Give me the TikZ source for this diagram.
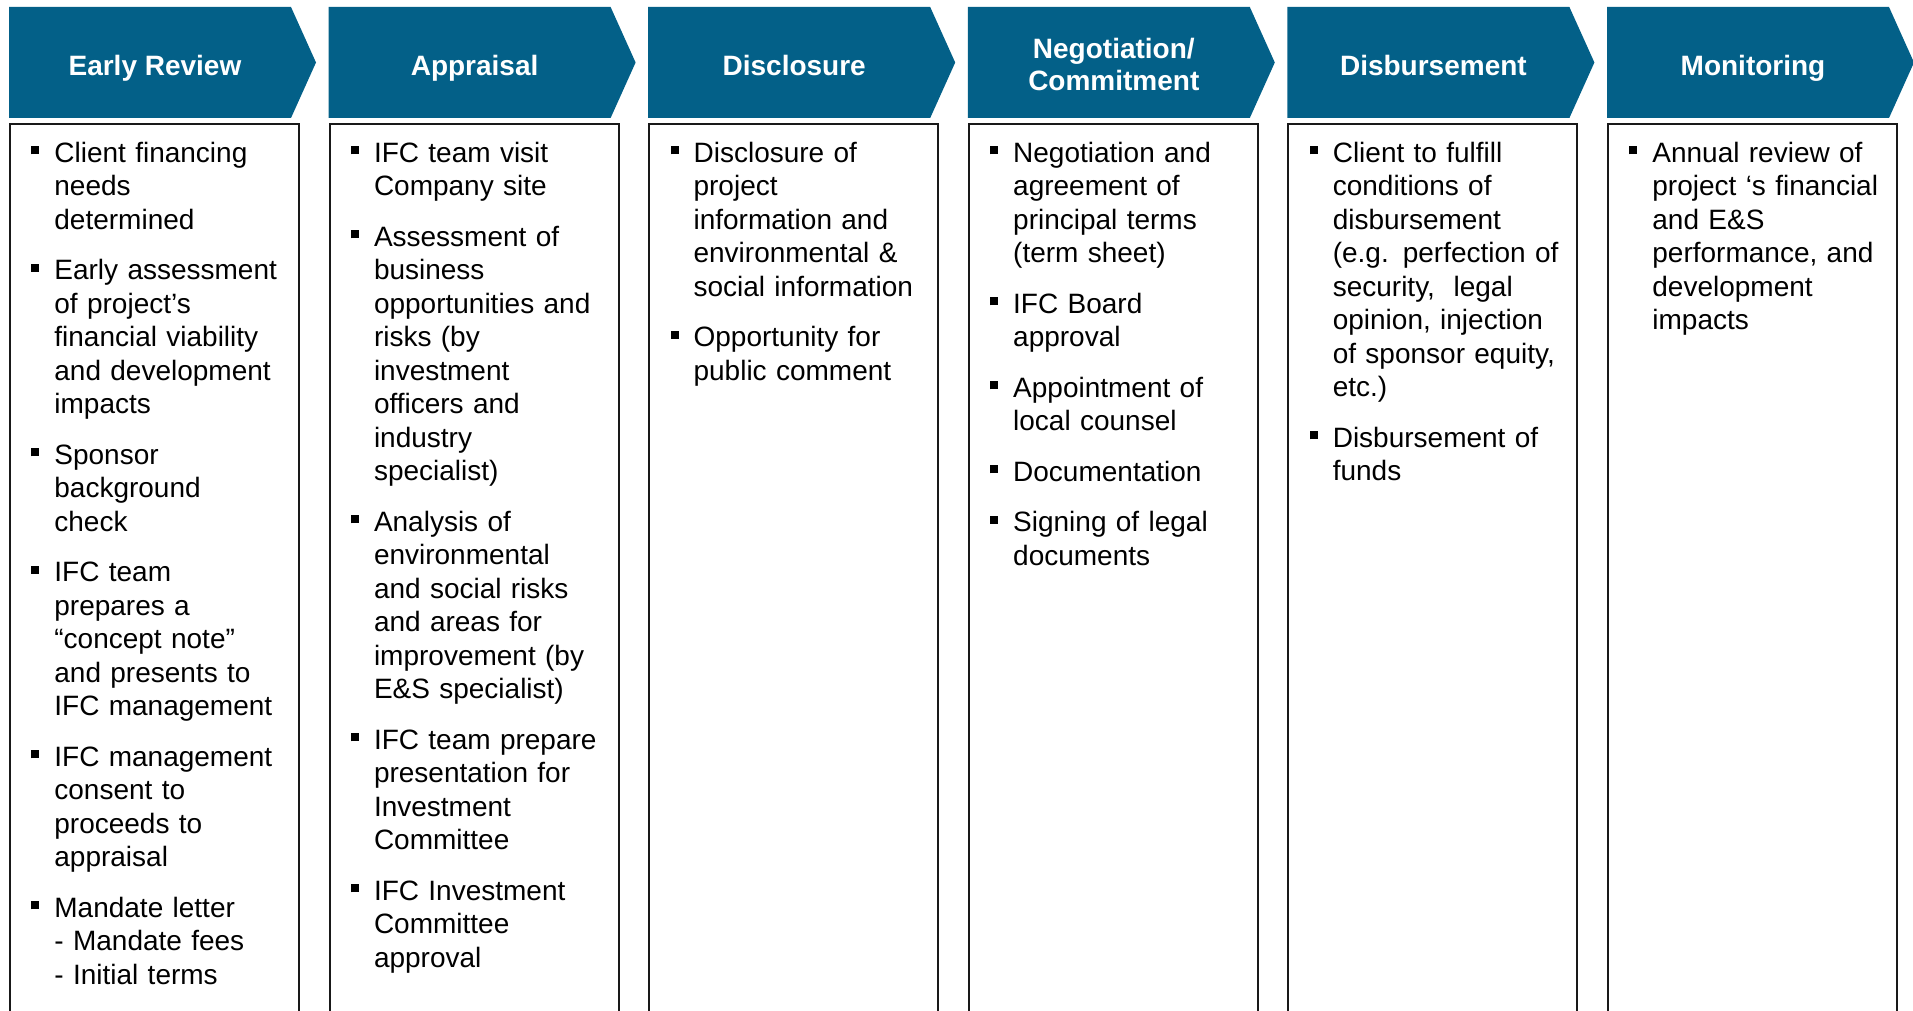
\documentclass[tikz,border=0pt]{standalone}
\usepackage{fontspec}
\setmainfont{Liberation Sans}
\usepackage{tikz}
\usetikzlibrary{shapes.symbols, positioning}
\definecolor{stageblue}{RGB}{3,96,136}
\definecolor{boxline}{RGB}{25,25,25}

% bullet list used in every column
\newenvironment{stagelist}{%
  \begin{list}{\rule[4pt]{4pt}{4pt}}{%
    \setlength{\leftmargin}{11.5pt}%
    \setlength{\labelwidth}{4pt}%
    \setlength{\labelsep}{7.5pt}%
    \setlength{\itemsep}{8.5pt}%
    \setlength{\parsep}{0pt}%
    \setlength{\topsep}{0pt}%
    \setlength{\partopsep}{0pt}}}
  {\end{list}}

\tikzset{
  stage/.style={signal, signal to=east, signal pointer angle=131.5,
    fill=stageblue, draw=none, minimum width=153.5pt, minimum height=55.5pt,
    inner sep=0pt, outer sep=0pt},
  stagename/.style={text=white, align=center, inner sep=0pt,
    text height=10pt, text depth=0pt,
    font=\fontsize{14pt}{16.5pt}\selectfont\bfseries},
  items/.style={anchor=base west, inner sep=0pt, text width=134pt,
    align=left, font=\fontsize{14pt}{16.75pt}\selectfont},
  colbox/.style={line width=1pt, color=boxline}
}

\begin{document}
\begin{tikzpicture}[x=0.5pt, y=-0.5pt]
  \useasboundingbox (0,0) rectangle (1913,1011);

  % Stage headers (\dy: vertical nudge of the name)
  \foreach \i/\lab/\dy in {1/Early Review/-1.5, 2/Appraisal/-1.5, 3/Disclosure/-1.5,
      4/{Negotiation/\\Commitment}/-9.25, 5/Disbursement/-1.5, 6/Monitoring/-1.5} {
    \node[stage, anchor=west] (stage\i) at ({9+319.6*(\i-1)}, 62.5) {};
    \node[stagename] (name\i) at ([xshift=2.5pt, yshift=\dy pt]stage\i.center) {\lab};
  }

  % Open column boxes under the headers
  \foreach \i in {1,...,6} {
    \draw[colbox] ({10+319.6*(\i-1)}, 1013) |- ({299+319.6*(\i-1)}, 124)
      -- ({299+319.6*(\i-1)}, 1013);
  }

  % Column contents
  \node[items] (list1) at (31, 129) {\begin{stagelist}
    \item Client financing\\needs\\determined
    \item Early assessment\\of project’s\\financial viability\\and development\\impacts
    \item Sponsor\\background\\check
    \item IFC team\\prepares a\\“concept note”\\and presents to\\IFC management
    \item IFC management\\consent to\\proceeds to\\appraisal
    \item Mandate letter\\- Mandate fees\\- Initial terms
  \end{stagelist}};

  \node[items] (list2) at (350.6, 129) {\begin{stagelist}
    \item IFC team visit\\Company site
    \item Assessment of\\business\\opportunities and\\risks (by\\investment\\officers and\\industry\\specialist)
    \item Analysis of\\environmental\\and social risks\\and areas for\\improvement (by\\E\&S specialist)
    \item IFC team prepare\\presentation for\\Investment\\Committee
    \item IFC Investment\\Committee\\approval
  \end{stagelist}};

  \node[items] (list3) at (670.2, 129) {\begin{stagelist}
    \item Disclosure of\\project\\information and\\environmental \&\\social information
    \item Opportunity for\\public comment
  \end{stagelist}};

  \node[items] (list4) at (989.8, 129) {\begin{stagelist}
    \item Negotiation and\\agreement of\\principal terms\\(term sheet)
    \item IFC Board\\approval
    \item Appointment of\\local counsel
    \item Documentation
    \item Signing of legal\\documents
  \end{stagelist}};

  \node[items] (list5) at (1309.4, 129) {\begin{stagelist}
    \item Client to fulfill\\conditions of\\disbursement\\(e.g. perfection of\\security,\ \ legal\\opinion, injection\\of sponsor equity,\\etc.)
    \item Disbursement of\\funds
  \end{stagelist}};

  \node[items] (list6) at (1629, 129) {\begin{stagelist}
    \item Annual review of\\project ‘s financial\\and E\&S\\performance, and\\development\\impacts
  \end{stagelist}};
\end{tikzpicture}
\end{document}
